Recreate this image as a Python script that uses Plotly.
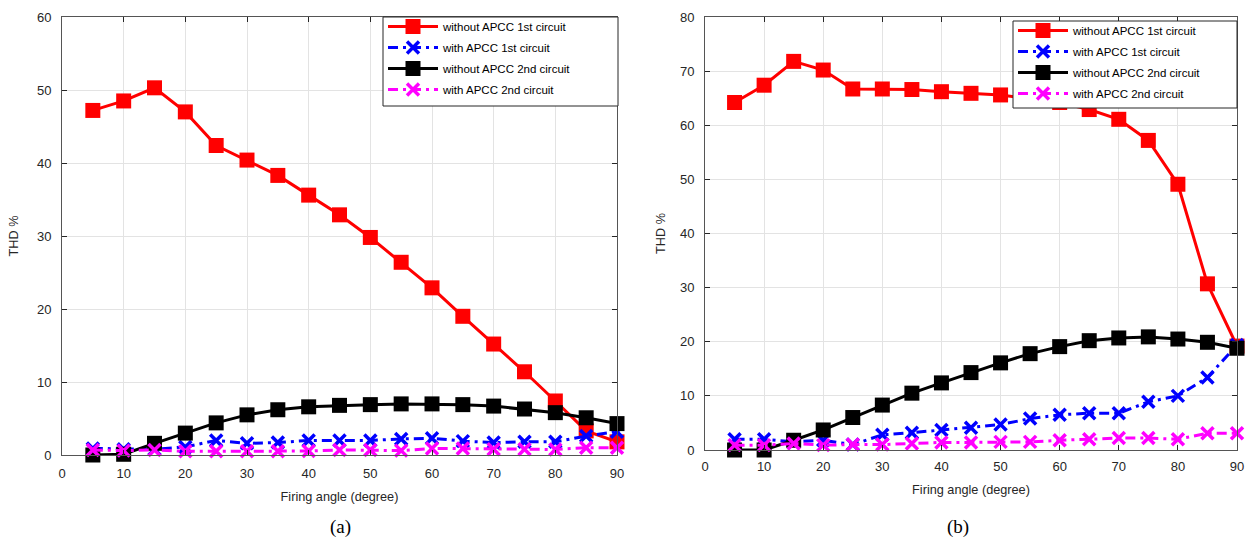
import plotly.graph_objects as go

# Firing angle (degree)
angle = [5, 10, 15, 20, 25, 30, 35, 40, 45, 50, 55, 60, 65, 70, 75, 80, 85, 90]

# (a) THD % values
a_without_1st = [47.2, 48.5, 50.3, 47.0, 42.4, 40.4, 38.3, 35.6, 32.9, 29.8, 26.4, 22.9, 19.0, 15.2, 11.4, 7.4, 3.3, 1.8]
a_with_1st = [0.9, 0.8, 0.8, 1.1, 2.0, 1.6, 1.7, 2.0, 2.0, 2.0, 2.2, 2.3, 1.9, 1.7, 1.8, 1.8, 2.6, 3.2]
a_without_2nd = [0.0, 0.1, 1.6, 3.0, 4.4, 5.5, 6.2, 6.6, 6.8, 6.9, 7.0, 7.0, 6.9, 6.7, 6.3, 5.8, 5.1, 4.3]
a_with_2nd = [0.7, 0.6, 0.7, 0.5, 0.5, 0.5, 0.5, 0.55, 0.7, 0.7, 0.6, 0.9, 0.9, 0.8, 0.8, 0.75, 1.0, 1.0]

# (b) THD % values
b_without_1st = [64.2, 67.4, 71.8, 70.2, 66.7, 66.7, 66.6, 66.2, 65.9, 65.6, 64.9, 64.2, 62.9, 61.1, 57.2, 49.1, 30.7, 19.2]
b_with_1st = [2.0, 2.0, 1.5, 1.8, 1.0, 2.8, 3.2, 3.7, 4.1, 4.7, 5.8, 6.5, 6.8, 6.8, 8.9, 10.0, 13.4, 19.4]
b_without_2nd = [0.0, 0.0, 1.8, 3.7, 6.0, 8.3, 10.5, 12.4, 14.3, 16.1, 17.8, 19.1, 20.2, 20.7, 20.9, 20.5, 19.9, 18.8]
b_with_2nd = [0.9, 0.9, 1.2, 0.9, 1.0, 1.0, 1.2, 1.4, 1.4, 1.5, 1.5, 1.8, 2.0, 2.2, 2.2, 2.0, 3.1, 3.1]

x_ticks = [0, 10, 20, 30, 40, 50, 60, 70, 80, 90]
a_y_ticks = [0, 10, 20, 30, 40, 50, 60]
b_y_ticks = [0, 10, 20, 30, 40, 50, 60, 70, 80]

names = ["without APCC 1st circuit", "with APCC 1st circuit",
         "without APCC 2nd circuit", "with APCC 2nd circuit"]

DASHDOT = "10px,5px,3px,5px"
FONT = "Liberation Sans, Arial, sans-serif"
TXT = "#262626"

styles = [
    dict(color="#ff0000", dash="solid", symbol="square", size=15, kind="sq"),
    dict(color="#0000ff", dash=DASHDOT, symbol="x-thin-open", size=12, kind="x"),
    dict(color="#000000", dash="solid", symbol="square", size=15, kind="sq"),
    dict(color="#ff00ff", dash=DASHDOT, symbol="x-thin-open", size=12, kind="x"),
]

fig = go.Figure()


def add_panel(series, xa, ya, legend, tag):
    for i, (name, ys, st) in enumerate(zip(names, series, styles)):
        if st["kind"] == "sq":
            marker = dict(symbol=st["symbol"], size=st["size"], color=st["color"],
                          line=dict(width=0))
        else:
            marker = dict(symbol=st["symbol"], size=st["size"], color=st["color"],
                          line=dict(width=3.5, color=st["color"]))
        fig.add_trace(go.Scatter(
            x=angle, y=ys, name=name, mode="lines+markers",
            line=dict(color=st["color"], width=3, dash=st["dash"]),
            marker=marker, xaxis=xa, yaxis=ya, legend=legend,
            legendgroup=f"{tag}{i}", cliponaxis=False,
        ))


add_panel([a_without_1st, a_with_1st, a_without_2nd, a_with_2nd], "x", "y", "legend", "a")
add_panel([b_without_1st, b_with_1st, b_without_2nd, b_with_2nd], "x2", "y2", "legend2", "b")

W, H = 1249, 545


def px(x):
    return x / W


def py(y):
    return 1 - y / H


TICKFONT = dict(family=FONT, size=13, color=TXT)
TITLEFONT = dict(family=FONT, size=12.7, color=TXT)

axis_common = dict(
    showgrid=True, gridcolor="#e3e3e3", gridwidth=1,
    showline=True, linecolor="#555555", linewidth=1, mirror="allticks",
    ticks="inside", ticklen=5, tickcolor="#262626", tickwidth=1,
    zeroline=False, tickfont=TICKFONT, automargin=False,
)


def legend_box(x0, y0, x1, y1):
    # white frame drawn behind the legend entries
    return dict(type="rect", xref="paper", yref="paper",
                x0=px(x0), x1=px(x1), y0=py(y1), y1=py(y0),
                fillcolor="white", line=dict(color="#262626", width=1), layer="above")


legend_common = dict(
    xanchor="left", yanchor="top", bgcolor="rgba(0,0,0,0)", borderwidth=0,
    font=dict(family=FONT, size=11.5, color="#000000"),
    itemwidth=50, tracegroupgap=2,
)

caption_font = dict(family="Liberation Serif, serif", size=19, color="#000")

fig.update_layout(
    width=W, height=H,
    margin=dict(l=0, r=0, t=0, b=0, pad=0, autoexpand=False),
    paper_bgcolor="white", plot_bgcolor="white",
    font=dict(family=FONT, size=12, color=TXT),
    xaxis=dict(domain=[px(62), px(617)], range=[0, 90], tickvals=x_ticks,
               ticklabelstandoff=6,
               title=dict(text="Firing angle (degree)", standoff=12, font=TITLEFONT),
               anchor="y", **axis_common),
    yaxis=dict(domain=[py(455), py(17)], range=[0, 60], tickvals=a_y_ticks,
               ticklabelstandoff=7,
               title=dict(text="THD %", standoff=15, font=TITLEFONT),
               anchor="x", **axis_common),
    xaxis2=dict(domain=[px(705), px(1237)], range=[0, 90], tickvals=x_ticks,
                ticklabelstandoff=4,
                title=dict(text="Firing angle (degree)", standoff=12, font=TITLEFONT),
                anchor="y2", **axis_common),
    yaxis2=dict(domain=[py(450), py(17)], range=[0, 80], tickvals=b_y_ticks,
                ticklabelstandoff=7,
                title=dict(text="THD %", standoff=11, font=TITLEFONT),
                anchor="x2", **axis_common),
    legend=dict(x=px(383), y=py(12), **legend_common),
    legend2=dict(x=px(1013), y=py(16), **legend_common),
    shapes=[legend_box(383, 17, 618, 106), legend_box(1013, 21, 1237, 108)],
    annotations=[
        dict(text="(a)", x=px(340), y=py(527), xref="paper", yref="paper",
             xanchor="center", yanchor="middle", showarrow=False, font=caption_font),
        dict(text="(b)", x=px(958), y=py(527), xref="paper", yref="paper",
             xanchor="center", yanchor="middle", showarrow=False, font=caption_font),
    ],
)

fig.write_html("out.html")
